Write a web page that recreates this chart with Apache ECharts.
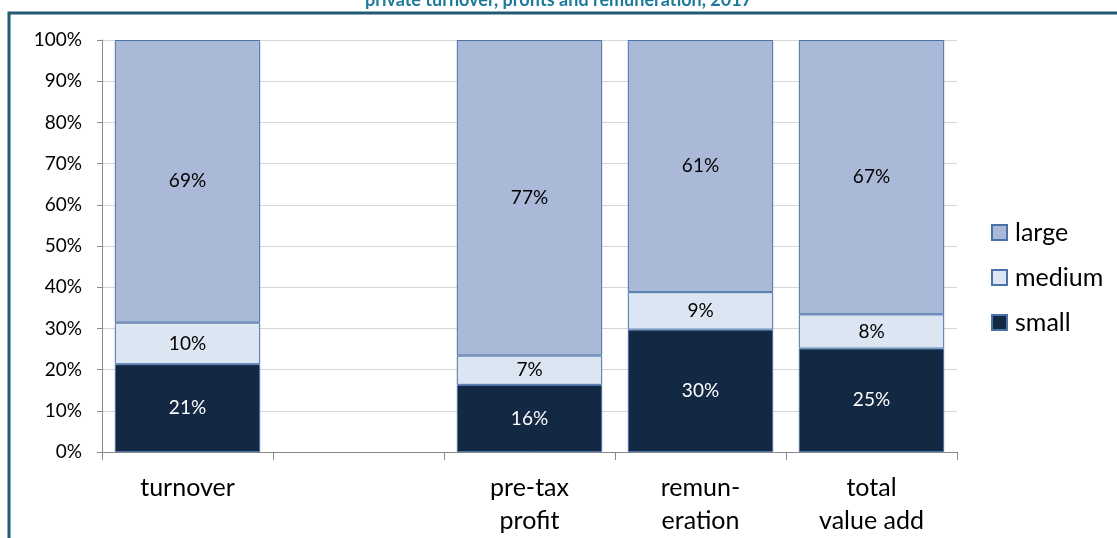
<!DOCTYPE html>
<html>
<head>
<meta charset="utf-8">
<script src="https://cdn.jsdelivr.net/npm/echarts@6/dist/echarts.min.js"></script>
<style>
  html, body { margin: 0; padding: 0; background: #fff; }
  #chart { width: 1117px; height: 538px; }
</style>
</head>
<body>
<div id="chart"></div>
<script>
// shares by company size (percent of total)
var categories = ["turnover", "", "pre-tax\nprofit", "remun-\neration", "total\nvalue add"];
var small = [21.3, null, 16.3, 29.7, 25.1];
var medium = [10.1, null, 7.1, 9.1, 8.3];
var large = [68.6, null, 76.6, 61.2, 66.6];
var yTicks = [0, 10, 20, 30, 40, 50, 60, 70, 80, 90, 100];

var font = "Lato";
var chart = echarts.init(document.getElementById("chart"));

function barSeries(name, data, color, labelColor) {
  return {
    name: name,
    type: "bar",
    stack: "total",
    data: data,
    barWidth: "85%",
    itemStyle: { color: color, borderColor: "#4a72a8", borderWidth: 1 },
    label: {
      show: true,
      position: "inside",
      fontFamily: font,
      fontSize: 19,
      color: labelColor,
      formatter: function (p) { return Math.round(p.value) + "%"; }
    },
    animation: false
  };
}

chart.setOption({
  textStyle: { fontFamily: font },
  title: {
    text: "private turnover, profits and remuneration, 2017",
    left: "center",
    top: -14,
    textStyle: { fontFamily: font, fontSize: 18, fontWeight: "bold", color: "#1d7a9a" }
  },
  graphic: [{
    type: "rect",
    shape: { x: 9, y: 13, width: 1200, height: 600 },
    style: { fill: "none", stroke: "#215a73", lineWidth: 3 }
  }],
  legend: {
    orient: "vertical",
    left: 986,
    top: 215,
    icon: "rect",
    itemWidth: 15,
    itemHeight: 15,
    itemGap: 20,
    data: ["large", "medium", "small"],
    textStyle: { fontFamily: font, fontSize: 25, color: "#000", padding: [0, 0, 0, 3] }
  },
  grid: { left: 102, right: 160, top: 40, bottom: 86 },
  xAxis: {
    type: "category",
    data: categories,
    axisLine: { lineStyle: { color: "#888", width: 1 } },
    axisTick: { show: true, length: 8, lineStyle: { color: "#888" } },
    axisLabel: { fontFamily: font, fontSize: 25, color: "#000", margin: 19, lineHeight: 33, interval: 0 }
  },
  yAxis: {
    type: "value",
    min: 0,
    max: 100,
    interval: 10,
    axisLine: { show: true, lineStyle: { color: "#888" } },
    axisTick: { show: true, inside: false, length: 5, lineStyle: { color: "#888" } },
    splitLine: { lineStyle: { color: "#d6d6d6" } },
    axisLabel: {
      fontFamily: font, fontSize: 19, color: "#000", margin: 20,
      formatter: function (v) { return yTicks.indexOf(v) >= 0 ? v + "%" : ""; }
    }
  },
  series: [
    barSeries("small", small, "#132842", "#fff"),
    barSeries("medium", medium, "#dce6f2", "#000"),
    barSeries("large", large, "#aab9d7", "#000")
  ]
});
</script>
</body>
</html>
